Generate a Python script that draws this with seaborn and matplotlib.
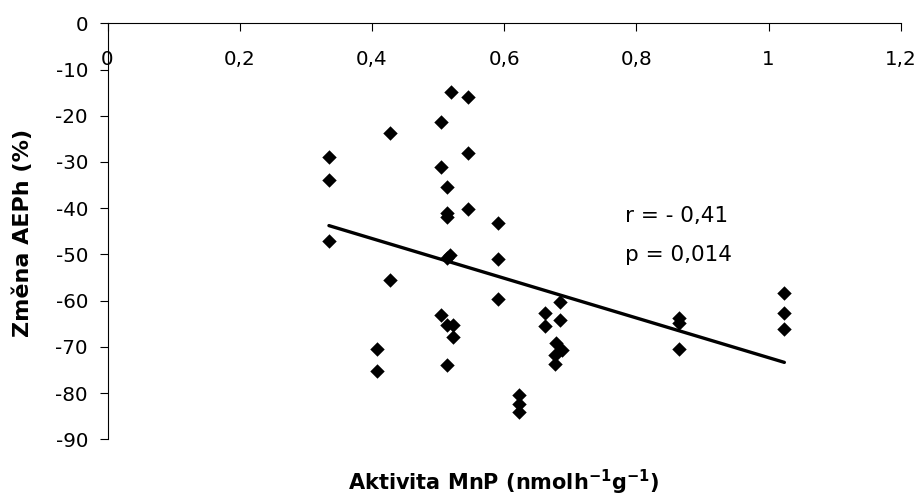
import matplotlib
matplotlib.use("Agg")
import matplotlib.pyplot as plt
import seaborn as sns
import pandas as pd

# MnP activity (nmol h-1 g-1) and change of AEPh (%)
mnp_activity = [
    0.519, 0.546, 0.504, 0.428, 0.335, 0.546, 0.504, 0.335, 0.513, 0.513,
    0.513, 0.546, 0.591, 0.335, 0.518, 0.513, 0.591, 0.428, 0.591, 0.504,
    0.513, 0.522, 0.522, 0.407, 0.513, 0.407, 0.622, 0.622, 0.622, 0.662,
    0.662, 0.685, 0.685, 0.679, 0.687, 0.677, 0.677, 0.864, 0.864, 0.864,
    1.024, 1.024, 1.024,
]
aeph_change = [
    -14.8, -16.0, -21.3, -23.8, -29.0, -28.1, -31.2, -33.8, -35.5, -41.1,
    -42.0, -40.2, -43.3, -47.2, -50.1, -50.8, -51.1, -55.6, -59.7, -63.1,
    -65.3, -65.3, -67.9, -70.5, -74.0, -75.3, -80.4, -82.4, -84.1, -62.7,
    -65.4, -60.2, -64.2, -69.2, -70.7, -71.8, -73.8, -63.8, -64.9, -70.5,
    -58.4, -62.6, -66.2,
]

x_ticks = [0, 0.2, 0.4, 0.6, 0.8, 1.0, 1.2]
x_tick_labels = ["0", "0,2", "0,4", "0,6", "0,8", "1", "1,2"]
y_ticks = [0, -10, -20, -30, -40, -50, -60, -70, -80, -90]
y_tick_labels = ["0", "-10", "-20", "-30", "-40", "-50", "-60", "-70", "-80", "-90"]

stats_lines = ["r = - 0,41", "p = 0,014"]

df = pd.DataFrame({"mnp": mnp_activity, "aeph": aeph_change})

sns.set_style("white")
plt.rcParams["font.family"] = ["DejaVu Sans"]
plt.rcParams["axes.unicode_minus"] = False
plt.rcParams["text.color"] = "black"
plt.rcParams["xtick.color"] = "black"
plt.rcParams["ytick.color"] = "black"

fig = plt.figure(figsize=(9.22, 5.04), dpi=100)
ax = fig.add_axes([0.1166, 0.1284, 0.8603, 0.8254])

sns.regplot(
    data=df, x="mnp", y="aeph", ax=ax, ci=None, truncate=True,
    marker="D",
    scatter_kws={"s": 54, "color": "black", "alpha": 1, "linewidths": 0,
                 "zorder": 3},
    line_kws={"color": "black", "linewidth": 2.4, "zorder": 2},
)

ax.set_xlim(0, 1.2)
ax.set_ylim(-90, 0)

# x axis drawn along y = 0, labels hanging beneath it
ax.spines["bottom"].set_position(("data", 0))
ax.spines["top"].set_visible(False)
ax.spines["right"].set_visible(False)
for side in ("bottom", "left"):
    ax.spines[side].set_color("black")
    ax.spines[side].set_linewidth(0.8)

ax.set_xticks(x_ticks)
ax.set_xticklabels(x_tick_labels)
ax.set_yticks(y_ticks)
ax.set_yticklabels(y_tick_labels)
ax.tick_params(axis="x", direction="out", length=6, width=0.8, pad=13,
               labelsize=14.3, colors="black")
ax.tick_params(axis="y", direction="out", length=6, width=0.8, pad=8,
               labelsize=14.3, colors="black")
ax.tick_params(left=True, bottom=True)

ax.set_xlabel("")
ax.set_ylabel("")
fig.text(0.5466, 0.042, r"Aktivita MnP (nmol$\mathbf{h^{-1}g^{-1}}$)",
         ha="center", va="center", fontsize=15, fontweight="bold")
fig.text(0.0245, 0.5385, "Změna AEPh (%)", rotation=90,
         ha="center", va="center", fontsize=16, fontweight="bold")

ax.text(0.783, -41.8, stats_lines[0], ha="left", va="center", fontsize=15.5)
ax.text(0.783, -50.1, stats_lines[1], ha="left", va="center", fontsize=15.5)

fig.savefig("out.png", dpi=100)
